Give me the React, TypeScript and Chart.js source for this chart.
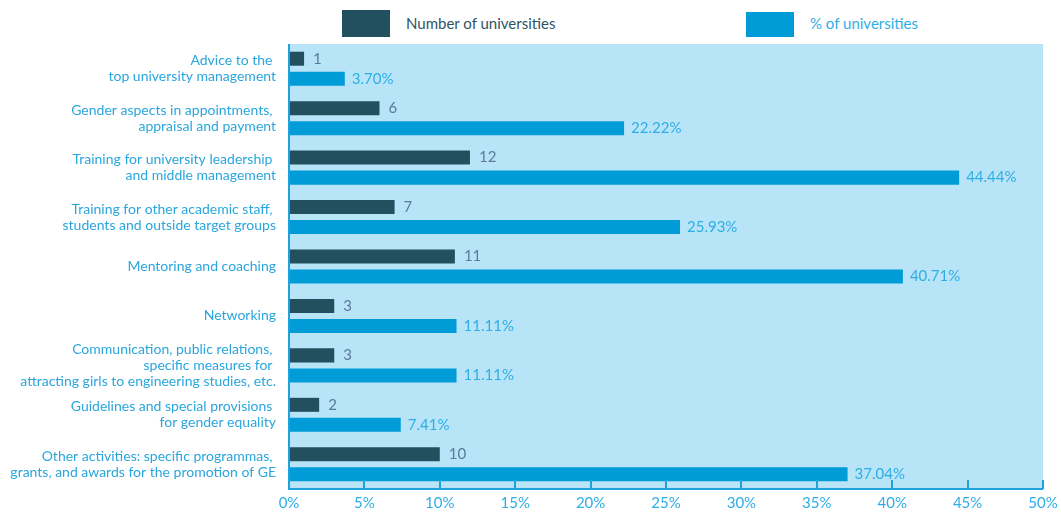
import { useEffect, useRef } from "react";
import { Chart, registerables } from "chart.js";
Chart.register(...registerables);

const categories: string[][] = [
  ["Advice to the ", "top university management"],
  ["Gender aspects in appointments, ", "appraisal and payment"],
  ["Training for university leadership ", "and middle management"],
  ["Training for other academic staff, ", "students and outside target groups"],
  ["Mentoring and coaching"],
  ["Networking"],
  ["Communication, public relations, ", "specific measures for ", "attracting girls to engineering studies, etc."],
  ["Guidelines and special provisions ", "for gender equality"],
  ["Other activities: specific programmas, ", "grants, and awards for the promotion of GE"],
];
const numberOfUniversities = [1, 6, 12, 7, 11, 3, 3, 2, 10];
const percentOfUniversities = [3.7, 22.22, 44.44, 25.93, 40.71, 11.11, 11.11, 7.41, 37.04];
const xTickValues = [0, 5, 10, 15, 20, 25, 30, 35, 40, 45, 50];
const seriesNames = ["Number of universities", "% of universities"];

const DARK = "#22505f";
const BLUE = "#009cd7";
const BG = "#b8e4f8";
const AXIS = "#1fa2dc";
const LABEL = "#2aa6de";
const FONT = "Lato";

const bgPlugin = {
  id: "bgPlugin",
  beforeDatasetsDraw(chart: any) {
    const { ctx, chartArea } = chart;
    ctx.save();
    ctx.fillStyle = BG;
    ctx.fillRect(chartArea.left, chartArea.top, chartArea.right - chartArea.left, chartArea.bottom - chartArea.top);
    ctx.restore();
  },
};

const axisPlugin = {
  id: "axisPlugin",
  afterDatasetsDraw(chart: any) {
    const { ctx, chartArea } = chart;
    const xs = chart.scales.x;
    ctx.save();
    ctx.strokeStyle = AXIS;
    ctx.lineWidth = 2;
    ctx.beginPath();
    ctx.moveTo(chartArea.left, chartArea.top);
    ctx.lineTo(chartArea.left, chartArea.bottom);
    ctx.lineTo(chartArea.right, chartArea.bottom);
    ctx.stroke();
    xTickValues.forEach((v) => {
      if (v === 0) return;
      const px = Math.round(xs.getPixelForValue(v));
      ctx.beginPath();
      ctx.moveTo(px, chartArea.bottom);
      ctx.lineTo(px, chartArea.bottom - 9);
      ctx.stroke();
    });
    ctx.restore();
  },
};

const valuePlugin = {
  id: "valuePlugin",
  afterDatasetsDraw(chart: any) {
    const { ctx } = chart;
    ctx.save();
    ctx.font = `15px ${FONT}`;
    ctx.textBaseline = "middle";
    ctx.textAlign = "left";
    chart.data.datasets.forEach((ds: any, di: number) => {
      const meta = chart.getDatasetMeta(di);
      meta.data.forEach((el: any, i: number) => {
        const v = ds.data[i];
        const txt = di === 0 ? String(v) : v.toFixed(2) + "%";
        ctx.fillStyle = di === 0 ? "#5a7b9b" : "#2eaee6";
        ctx.fillText(txt, el.x + (di === 0 ? 9 : 7), el.y);
      });
    });
    ctx.restore();
  },
};

export default function App() {
  const ref = useRef<HTMLCanvasElement>(null);
  useEffect(() => {
    document.body.style.margin = "0";
    const chart = new Chart(ref.current!, {
      type: "bar",
      data: {
        labels: categories,
        datasets: [
          {
            label: seriesNames[0],
            data: numberOfUniversities,
            backgroundColor: DARK,
            categoryPercentage: 0.81,
            barPercentage: 0.7,
          },
          {
            label: seriesNames[1],
            data: percentOfUniversities,
            backgroundColor: BLUE,
            categoryPercentage: 0.81,
            barPercentage: 0.7,
          },
        ],
      },
      options: {
        indexAxis: "y",
        responsive: false,
        animation: false,
        devicePixelRatio: 1,
        layout: { padding: { top: 44, right: 18, left: 0, bottom: 0 } },
        plugins: { legend: { display: false }, tooltip: { enabled: false } },
        scales: {
          x: {
            min: 0,
            max: 50,
            afterBuildTicks: (scale: any) => {
              scale.ticks = xTickValues.map((v) => ({ value: v }));
            },
            afterFit: (scale: any) => {
              scale.height = 25;
              scale.paddingLeft = 0;
              scale.paddingRight = 0;
              scale.paddingTop = 0;
              scale.paddingBottom = 0;
            },
            grid: { display: false, drawTicks: false },
            border: { display: false },
            ticks: {
              color: "#2eaee6",
              font: { family: FONT, size: 15 },
              padding: 5,
              maxRotation: 0,
              autoSkip: false,
              callback: (v: any) => v + "%",
            },
          },
          y: {
            afterFit: (scale: any) => {
              scale.width = 289;
              scale.paddingTop = 0;
              scale.paddingBottom = 0;
              scale.paddingLeft = 0;
              scale.paddingRight = 0;
            },
            grid: { display: false, drawTicks: false },
            border: { display: false },
            ticks: {
              color: LABEL,
              font: { family: FONT, size: 14, lineHeight: 1.15 },
              padding: 13,
              autoSkip: false,
              crossAlign: "near",
            },
          },
        },
      },
      plugins: [bgPlugin, axisPlugin, valuePlugin],
    } as any);
    return () => chart.destroy();
  }, []);

  const legendText: React.CSSProperties = {
    position: "absolute",
    fontFamily: FONT,
    fontSize: 15,
    lineHeight: "27px",
    whiteSpace: "nowrap",
  };

  return (
    <div style={{ position: "relative", width: 1061, height: 514, background: "#fff" }}>
      <div style={{ position: "absolute", left: 342, top: 10, width: 48, height: 27, background: DARK }} />
      <div style={{ ...legendText, left: 406, top: 10, color: "#2d5468" }}>{seriesNames[0]}</div>
      <div style={{ position: "absolute", left: 746, top: 12, width: 48, height: 25, background: BLUE }} />
      <div style={{ ...legendText, left: 810, top: 10, color: "#2eaee6" }}>{seriesNames[1]}</div>
      <canvas ref={ref} width={1061} height={514} style={{ position: "absolute", left: 0, top: 0 }} />
    </div>
  );
}
